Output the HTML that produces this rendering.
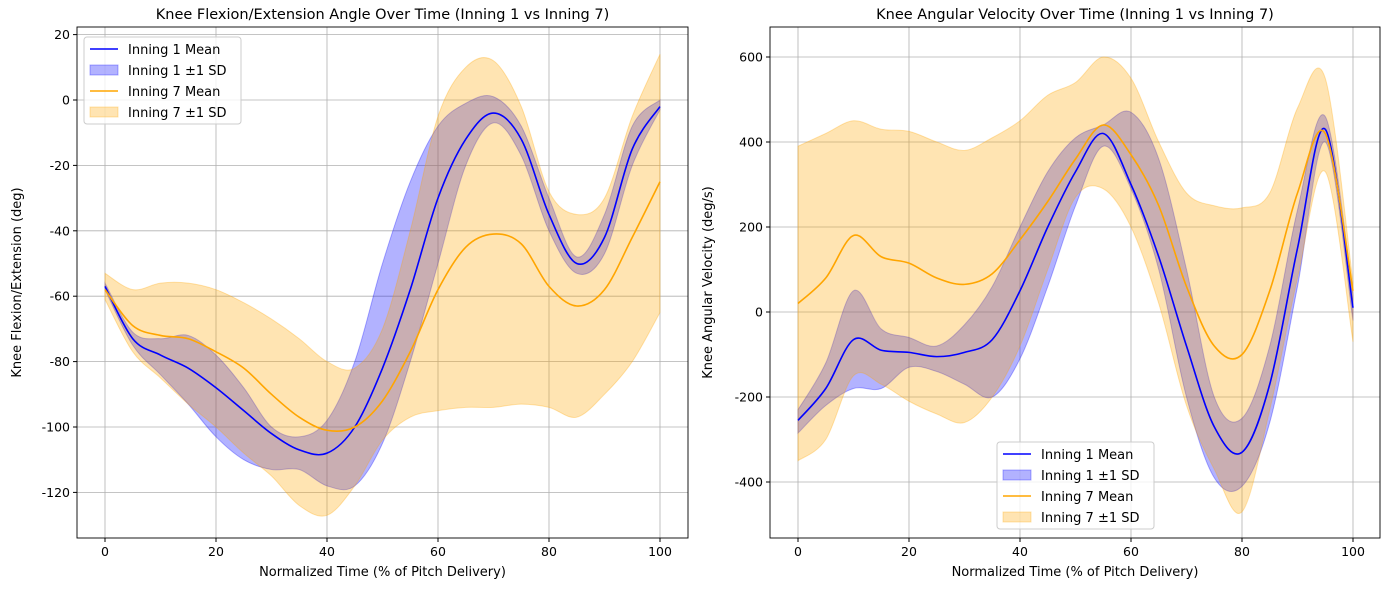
<!DOCTYPE html>
<html><head><meta charset="utf-8"><style>
body{margin:0;background:#fff;font-family:"Liberation Sans","DejaVu Sans",sans-serif;}
svg text{font-family:"DejaVu Sans","Liberation Sans",sans-serif;}
</style></head><body>
<svg id="fig" width="1389" height="590" viewBox="0 0 1389 590" xmlns="http://www.w3.org/2000/svg"></svg>
<script>
const xs=[0,5,10,15,20,25,30,35,40,45,50,55,60,65,70,75,80,85,90,95,100];
// Left chart: angle
const a1Mean=[-57,-73,-78,-82,-88,-95,-102,-107,-108,-100,-82,-58,-30,-12,-4,-12,-35,-50,-42,-15,-2];
const a1Up=[-56,-71,-73,-72,-78,-88,-100,-103,-98,-80,-50,-25,-8,-1,1,-8,-30,-48,-35,-8,0];
const a1Lo=[-58,-75,-84,-93,-103,-110,-113,-113,-118,-118,-105,-80,-50,-20,-7,-17,-40,-53,-47,-20,-3];
const a7Mean=[-58,-69,-72,-73,-77,-82,-90,-97,-101,-100,-92,-77,-58,-45,-41,-44,-57,-63,-58,-42,-25];
const a7Up=[-53,-58,-56,-56,-58,-62,-67,-73,-80,-82,-70,-40,-5,10,12,-2,-28,-35,-30,-5,14];
const a7Lo=[-61,-77,-85,-93,-100,-108,-115,-124,-127,-118,-104,-97,-95,-94,-94,-93,-94,-97,-90,-80,-65];
// Right chart: velocity
const v1Mean=[-255,-180,-65,-90,-95,-105,-95,-65,50,200,330,420,300,130,-80,-270,-330,-170,150,430,10];
const v1Up=[-230,-120,50,-40,-60,-80,-30,60,200,330,410,440,470,360,100,-200,-250,-80,240,460,40];
const v1Lo=[-285,-220,-180,-180,-130,-140,-170,-200,-110,60,250,390,290,100,-200,-390,-410,-260,60,400,-20];
const v7Mean=[20,80,180,130,115,80,65,90,170,260,360,440,370,250,60,-80,-100,50,280,420,50];
const v7Up=[390,420,450,430,425,400,380,410,450,510,540,600,550,400,280,250,245,280,480,550,70];
const v7Lo=[-350,-300,-150,-170,-210,-240,-260,-200,-80,100,270,290,200,20,-220,-370,-470,-230,80,330,-70];
const xTicks=[0,20,40,60,80,100];
const aTicks=[20,0,-20,-40,-60,-80,-100,-120];
const vTicks=[600,400,200,0,-200,-400];

const NS="http://www.w3.org/2000/svg";
const svg=document.getElementById('fig');
function el(t,a,p){const e=document.createElementNS(NS,t);for(const k in a)e.setAttribute(k,a[k]);(p||svg).appendChild(e);return e;}
function smooth(pts){let d="M"+pts[0][0]+","+pts[0][1];for(let i=0;i<pts.length-1;i++){const p0=pts[Math.max(i-1,0)],p1=pts[i],p2=pts[i+1],p3=pts[Math.min(i+2,pts.length-1)];d+=" C"+(p1[0]+(p2[0]-p0[0])/6)+","+(p1[1]+(p2[1]-p0[1])/6)+" "+(p2[0]-(p3[0]-p1[0])/6)+","+(p2[1]-(p3[1]-p1[1])/6)+" "+p2[0]+","+p2[1];}return d;}
function smoothRev(pts){return smooth(pts.slice().reverse()).replace(/^M/,"L");}

function chart(o){
  const g=el('g',{});
  
  
  const X=v=>o.x0+(v-0)*(o.x100-o.x0)/100;
  const Y=v=>o.yA+(v-o.vA)*(o.yB-o.yA)/(o.vB-o.vA);
  xTicks.forEach(t=>{const l=el('line',{x1:X(t),x2:X(t),y1:o.top,y2:o.bot,stroke:'#b0b0b0','stroke-width':0.8},g);});
  o.yt.forEach(t=>{const l=el('line',{x1:o.left,x2:o.right,y1:Y(t),y2:Y(t),stroke:'#b0b0b0','stroke-width':0.8},g);});
  function band(up,lo,col,nm){const pu=xs.map((x,i)=>[X(x),Y(up[i])]),pl=xs.map((x,i)=>[X(x),Y(lo[i])]);const p=el('path',{d:smooth(pu)+" "+smoothRev(pl)+"Z",fill:col,'fill-opacity':0.3,stroke:col,'stroke-opacity':0.3},g);}
  function line(m,col,nm){const p=el('path',{d:smooth(xs.map((x,i)=>[X(x),Y(m[i])])),fill:'none',stroke:col,'stroke-width':1.6},g);}
  band(o.s1u,o.s1l,'#0000ff','inning1-sd-band');
  band(o.s7u,o.s7l,'#ffa500','inning7-sd-band');
  line(o.s1m,'#0000ff','inning1-mean-line');
  line(o.s7m,'#ffa500','inning7-mean-line');
  const fr=el('rect',{x:o.left,y:o.top,width:o.right-o.left,height:o.bot-o.top,fill:'none',stroke:'#000','stroke-width':0.9},g);
  
  xTicks.forEach(t=>{el('line',{x1:X(t),x2:X(t),y1:o.bot,y2:o.bot+4,stroke:'#000'},g);const tx=el('text',{x:X(t),y:o.bot+18,'text-anchor':'middle','font-size':12.5},g);tx.textContent=t;});
  o.yt.forEach(t=>{el('line',{x1:o.left-4,x2:o.left,y1:Y(t),y2:Y(t),stroke:'#000'},g);const tx=el('text',{x:o.left-7,y:Y(t)+4.5,'text-anchor':'end','font-size':12.5},g);tx.textContent=t;});
  const ti=el('text',{x:(o.left+o.right)/2,y:o.top-8,'text-anchor':'middle','font-size':14.5},g);ti.textContent=o.title;
  const xl=el('text',{x:(o.left+o.right)/2,y:o.bot+38,'text-anchor':'middle','font-size':13},g);xl.textContent='Normalized Time (% of Pitch Delivery)';
  const cy=(o.top+o.bot)/2;
  const yl=el('text',{x:o.ylx,y:cy,'text-anchor':'middle','font-size':13,transform:`rotate(-90 ${o.ylx} ${cy})`},g);yl.textContent=o.ylabel;
  const lg=el('g',{},g);
  el('rect',{x:o.lx,y:o.ly,width:157,height:87,rx:3,fill:'#fff','fill-opacity':0.8,stroke:'#ccc'},lg);
  const items=[['line','#0000ff','Inning 1 Mean'],['patch','#0000ff','Inning 1 \u00b11 SD'],['line','#ffa500','Inning 7 Mean'],['patch','#ffa500','Inning 7 \u00b11 SD']];
  items.forEach((it,i)=>{const yy=o.ly+12+i*21;
    if(it[0]=='line')el('line',{x1:o.lx+6,x2:o.lx+34,y1:yy,y2:yy,stroke:it[1],'stroke-width':1.6},lg);
    else el('rect',{x:o.lx+6,y:yy-5,width:28,height:10,fill:it[1],'fill-opacity':0.3,stroke:it[1],'stroke-opacity':0.3},lg);
    const t=el('text',{x:o.lx+44,y:yy+5,'font-size':13},lg);t.textContent=it[2];});
}
chart({name:'knee-angle-chart',left:77,right:688,top:27,bot:538,x0:105,x100:660,vA:0,yA:100,vB:-100,yB:427,yt:aTicks,
  s1m:a1Mean,s1u:a1Up,s1l:a1Lo,s7m:a7Mean,s7u:a7Up,s7l:a7Lo,title:'Knee Flexion/Extension Angle Over Time (Inning 1 vs Inning 7)',ylabel:'Knee Flexion/Extension (deg)',ylx:21,lx:84,ly:37});
chart({name:'knee-velocity-chart',left:770,right:1380,top:27,bot:538,x0:798,x100:1353,vA:0,yA:312,vB:400,yB:142,yt:vTicks,
  s1m:v1Mean,s1u:v1Up,s1l:v1Lo,s7m:v7Mean,s7u:v7Up,s7l:v7Lo,title:'Knee Angular Velocity Over Time (Inning 1 vs Inning 7)',ylabel:'Knee Angular Velocity (deg/s)',ylx:712,lx:997,ly:442});
</script>
</body></html>
